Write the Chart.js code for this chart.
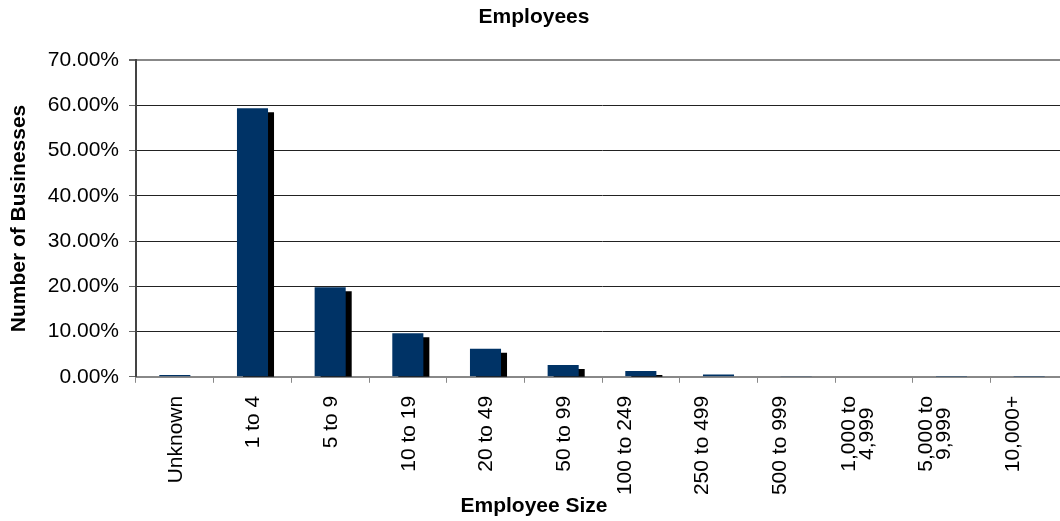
<!DOCTYPE html>
<html>
<head>
<meta charset="utf-8">
<script src="https://cdn.jsdelivr.net/npm/chart.js@4.4.0/dist/chart.umd.min.js"></script>
<style>
  html, body { margin: 0; padding: 0; background: #fff; overflow: hidden; }
  #wrap { width: 1068px; height: 521px; }
</style>
</head>
<body>
<div id="wrap"><canvas id="myChart"></canvas></div>
<script>
// data
const categories = ['Unknown', '1 to 4', '5 to 9', '10 to 19', '20 to 49', '50 to 99', '100 to 249',
  '250 to 499', '500 to 999', ['1,000 to', '4,999'], ['5,000 to', '9,999'], '10,000+'];
const shares = [0.4, 59.4, 19.8, 9.65, 6.2, 2.6, 1.3, 0.5, 0.15, 0.1, 0.03, 0.01];
const yTicks = [0, 10, 20, 30, 40, 50, 60, 70];

const FONT = "'Liberation Sans', Arial, sans-serif";

// excel style drop shadow behind the bars
const barShadow = {
  id: 'barShadow',
  beforeDatasetDraw(chart) {
    const c = chart.ctx;
    c.save();
    c.shadowColor = '#000';
    c.shadowBlur = 0;
    c.shadowOffsetX = 6;
    c.shadowOffsetY = 4;
  },
  afterDatasetDraw(chart) {
    chart.ctx.restore();
  }
};

// rotated category labels drawn like excel does: block starts under the axis,
// lines of a wrapped label centred within the block
const excelLabels = {
  id: 'excelLabels',
  afterDraw(chart) {
    const c = chart.ctx;
    const xs = chart.scales.x;
    const top = xs.top + 19;
    c.save();
    c.fillStyle = '#000';
    c.font = '21px ' + FONT;
    c.textAlign = 'center';
    c.textBaseline = 'middle';
    categories.forEach(function (lab, i) {
      const lines = Array.isArray(lab) ? lab : [lab];
      let w = 0;
      lines.forEach(function (t) { w = Math.max(w, c.measureText(t).width); });
      // the later labels sit a bit left of their slot in the original
      const shift = i >= 6 ? -17 : 0;
      const x = xs.getPixelForTick(i) + 1 + shift;
      c.save();
      c.translate(x, top + w / 2);
      c.rotate(-Math.PI / 2);
      lines.forEach(function (t, k) {
        c.fillText(t, 0, (k - (lines.length - 1) / 2) * 18);
      });
      c.restore();
    });
    c.restore();
  }
};

new Chart(document.getElementById('myChart'), {
  type: 'bar',
  data: {
    labels: categories,
    datasets: [{
      data: shares,
      backgroundColor: '#003366',
      borderWidth: 0,
      barPercentage: 0.4,
      categoryPercentage: 1
    }]
  },
  options: {
    responsive: true,
    maintainAspectRatio: false,
    animation: false,
    layout: { padding: 0 },
    plugins: {
      legend: { display: false },
      tooltip: { enabled: false },
      title: {
        display: true,
        text: 'Employees',
        color: '#000',
        font: { family: FONT, size: 21, weight: 'bold' },
        padding: { top: 5, bottom: 30 }
      },
      subtitle: {
        display: true,
        position: 'bottom',
        text: 'Employee Size',
        color: '#000',
        font: { family: FONT, size: 21, weight: 'bold' },
        padding: { top: 0, bottom: 2 }
      }
    },
    scales: {
      x: {
        afterFit: function (s) { s.height = 117; },
        grid: {
          display: true,
          drawOnChartArea: false,
          drawTicks: true,
          tickLength: 6,
          tickColor: '#888',
          offset: true
        },
        border: { color: '#888', width: 2 },
        ticks: {
          color: 'rgba(0,0,0,0)',
          font: { family: FONT, size: 21 },
          minRotation: 90,
          maxRotation: 90,
          autoSkip: false
        }
      },
      y: {
        min: 0,
        max: 70,
        afterFit: function (s) { s.width = 136; },
        afterBuildTicks: function (s) { s.ticks = yTicks.map(function (v) { return { value: v }; }); },
        title: {
          display: true,
          text: 'Number of Businesses',
          color: '#000',
          font: { family: FONT, size: 21, weight: 'bold' },
          padding: { top: 7, bottom: 0 }
        },
        grid: {
          color: function (c) { return c.tick && c.tick.value === 70 ? '#888' : '#222'; },
          lineWidth: function (c) { return c.tick && c.tick.value === 70 ? 2 : 1; },
          tickColor: '#666',
          tickLength: 7
        },
        border: { color: '#444', width: 2 },
        ticks: {
          color: '#000',
          padding: 10,
          autoSkip: false,
          font: { family: FONT, size: 21 },
          callback: function (v) { return v.toFixed(2) + '%'; }
        }
      }
    }
  },
  plugins: [barShadow, excelLabels]
});
</script>
</body>
</html>
